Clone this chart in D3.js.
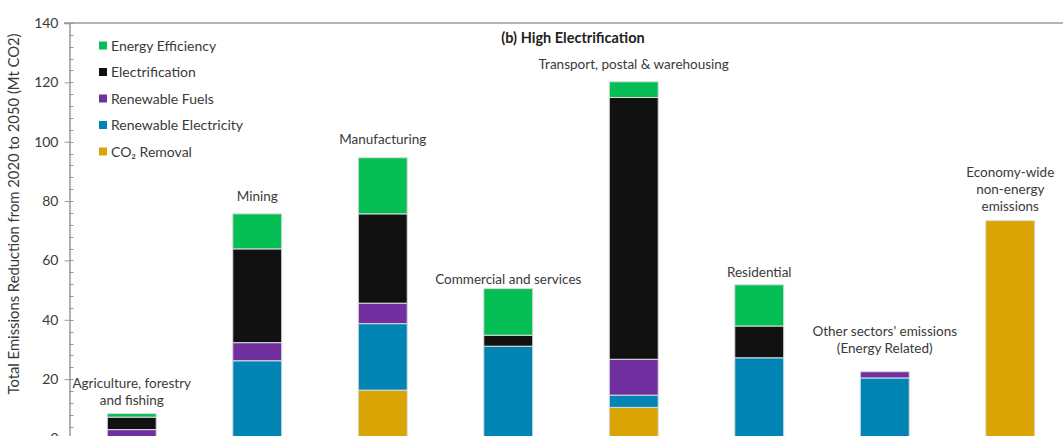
<!DOCTYPE html>
<html>
<head>
<meta charset="utf-8">
<script src="https://cdn.jsdelivr.net/npm/d3@7"></script>
<style>
  body { margin: 0; background: #fff; }
  text { font-family: Lato, "Open Sans", sans-serif; fill: #3a3a3a; }
</style>
</head>
<body>
<div id="chart"></div>
<script>
(function() {
  // sectors, left to right (label lines)
  const sectors = [
    ['Agriculture, forestry', 'and fishing'],
    ['Mining'],
    ['Manufacturing'],
    ['Commercial and services'],
    ['Transport, postal & warehousing'],
    ['Residential'],
    ["Other sectors' emissions", '(Energy Related)'],
    ['Economy-wide', 'non-energy', 'emissions']
  ];

  // stacked from the bottom up
  const seriesNames = ['CO₂ Removal', 'Renewable Electricity', 'Renewable Fuels', 'Electrification', 'Energy Efficiency'];
  const co2Removal          = [0,    0,    16.3, 0,    10.5, 0,    0,    73.4];
  const renewableElectricity = [0.4,  26.2, 22.4, 31.1, 4.1,  27.2, 20.4, 0];
  const renewableFuels      = [2.6,  6.1,  6.9,  0,    12.1, 0,    2.1,  0];
  const electrification     = [4.2,  31.6, 30.1, 3.7,  88.2, 10.7, 0,    0];
  const energyEfficiency    = [1.2,  11.8, 18.9, 15.7, 5.3,  13.9, 0,    0];
  const yTicks = [0, 20, 40, 60, 80, 100, 120, 140];

  const colors = ['#d9a404', '#0084b3', '#7030a0', '#111111', '#05bf55'];
  const legendOrder = [4, 3, 2, 1, 0];
  // extra lift of each label above its bar, px
  const labelLift = [9, 13, 14, 5, 13, 8, 19, 10];

  const width = 1063, height = 436;
  const svg = d3.select('#chart')
    .append('svg')
      .attr('width', width)
      .attr('height', height);

  const x = d3.scaleBand()
    .domain(d3.range(sectors.length))
    .range([69, 1073])
    .paddingInner(0.61)
    .paddingOuter(0.305);

  const y = d3.scaleLinear()
    .domain([0, 140])
    .range([438.5, 23]);

  // top frame line
  svg.append('line')
    .attr('x1', 64).attr('x2', width)
    .attr('y1', y(140)).attr('y2', y(140))
    .style('stroke', '#b3b3b3')
    .style('stroke-width', 2);

  // minor ticks, inside
  svg.append('g')
    .selectAll('line')
    .data(d3.range(0, 141, 4))
    .enter().append('line')
      .attr('x1', 69).attr('x2', 73.5)
      .attr('y1', d => Math.round(y(d)) + 0.5)
      .attr('y2', d => Math.round(y(d)) + 0.5)
      .style('stroke', '#999');

  const yAxis = svg.append('g')
    .attr('transform', 'translate(69.5,0)')
    .call(d3.axisLeft(y).tickValues(yTicks).tickSize(5).tickPadding(6));
  yAxis.select('.domain').style('stroke', '#999').style('stroke-width', 1.5);
  yAxis.selectAll('.tick line').style('stroke', '#999');
  yAxis.selectAll('.tick text')
    .style('font-size', '14px')
    .style('font-family', 'Lato, sans-serif')
    .style('fill', '#3a3a3a');

  svg.append('text')
    .attr('transform', 'translate(19,' + 214 + ') rotate(-90)')
    .attr('text-anchor', 'middle')
    .style('font-size', '14.8px')
    .text('Total Emissions Reduction from 2020 to 2050 (Mt CO2)');

  svg.append('text')
    .attr('x', 573).attr('y', 43)
    .attr('text-anchor', 'middle')
    .style('font-size', '14.5px')
    .style('font-weight', 'bold')
    .style('fill', '#222')
    .text('(b) High Electrification');

  // stacked bars
  const table = sectors.map((s, i) => ({
    i: i,
    'CO₂ Removal': co2Removal[i],
    'Renewable Electricity': renewableElectricity[i],
    'Renewable Fuels': renewableFuels[i],
    'Electrification': electrification[i],
    'Energy Efficiency': energyEfficiency[i]
  }));
  const stacked = d3.stack().keys(seriesNames)(table);

  svg.selectAll('.series')
    .data(stacked)
    .enter().append('g')
      .attr('class', 'series')
      .style('fill', (d, k) => colors[k])
    .selectAll('rect')
    .data(d => d.filter(p => p[1] - p[0] > 0))
    .enter().append('rect')
      .attr('x', d => x(d.data.i))
      .attr('width', x.bandwidth())
      .attr('y', d => y(d[1]))
      .attr('height', d => y(d[0]) - y(d[1]))
      .style('stroke', '#dcdcdc')
      .style('stroke-width', 1);

  // sector labels above bars
  const totals = table.map(d => d3.sum(seriesNames, k => d[k]));
  const labels = svg.selectAll('.sector')
    .data(sectors)
    .enter().append('text')
      .attr('class', 'sector')
      .attr('text-anchor', 'middle')
      .style('font-size', '13.5px')
      .attr('transform', (d, i) => {
        const base = y(totals[i]) - labelLift[i] - (d.length - 1) * 17;
        return 'translate(' + (x(i) + x.bandwidth() / 2) + ',' + base + ')';
      });
  labels.selectAll('tspan')
    .data(d => d)
    .enter().append('tspan')
      .attr('x', 0)
      .attr('dy', (d, j) => j === 0 ? 0 : 17)
      .text(d => d);

  // legend
  const legend = svg.selectAll('.legend')
    .data(legendOrder)
    .enter().append('g')
      .attr('class', 'legend')
      .attr('transform', (d, j) => 'translate(99,' + (46 + j * 26.5) + ')');
  legend.append('rect')
    .attr('x', 0).attr('y', -4.5)
    .attr('width', 8).attr('height', 8)
    .style('fill', d => colors[d]);
  legend.append('text')
    .attr('x', 12).attr('y', 0)
    .attr('dy', '0.35em')
    .style('font-size', '14px')
    .text(d => seriesNames[d]);
})();
</script>
</body>
</html>
